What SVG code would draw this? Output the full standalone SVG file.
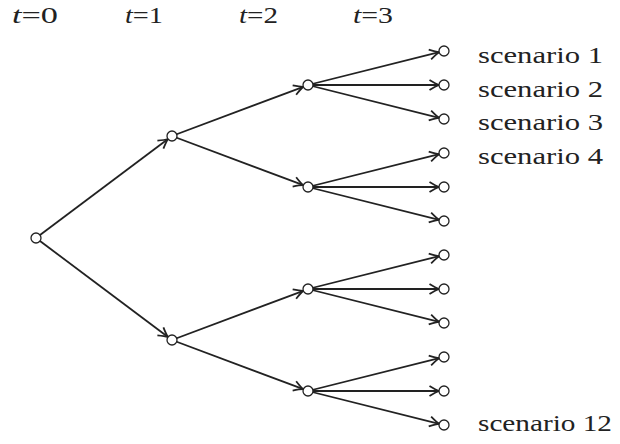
<svg xmlns="http://www.w3.org/2000/svg" width="620" height="444" viewBox="0 0 620 444">
<style>
.n{fill:#fff;stroke:#222;stroke-width:1.3}
.e{stroke:#222;stroke-width:1.8;fill:none;marker-end:url(#ah)}
.lbl{font-family:'Liberation Serif','DejaVu Serif',serif;font-size:24px;fill:#222}
.it{font-style:italic}
</style>
<defs>
<marker id="ah" markerUnits="userSpaceOnUse" viewBox="-11 -6 12 12" markerWidth="12" markerHeight="12" refX="0" refY="0" orient="auto">
<path d="M-9.5,-5 Q-3,-1 0,0 Q-3,1 -9.5,5" fill="none" stroke="#222" stroke-width="1.8"/>
</marker>
</defs>
<rect width="620" height="444" fill="#fff"/>
<g id="connectors">
<line class="e" x1="36" y1="238" x2="168" y2="139"/>
<line class="e" x1="36" y1="238" x2="168" y2="337"/>
<line class="e" x1="172" y1="136" x2="303.3" y2="86.8"/>
<line class="e" x1="172" y1="136" x2="303.3" y2="185.2"/>
<line class="e" x1="172" y1="340" x2="303.3" y2="290.8"/>
<line class="e" x1="172" y1="340" x2="303.3" y2="389.2"/>
<line class="e" x1="308" y1="85" x2="439.15" y2="52.21"/>
<line class="e" x1="308" y1="85" x2="439" y2="85"/>
<line class="e" x1="308" y1="85" x2="439.15" y2="117.79"/>
<line class="e" x1="308" y1="187" x2="439.15" y2="154.21"/>
<line class="e" x1="308" y1="187" x2="439" y2="187"/>
<line class="e" x1="308" y1="187" x2="439.15" y2="219.79"/>
<line class="e" x1="308" y1="289" x2="439.15" y2="256.21"/>
<line class="e" x1="308" y1="289" x2="439" y2="289"/>
<line class="e" x1="308" y1="289" x2="439.15" y2="321.79"/>
<line class="e" x1="308" y1="391" x2="439.15" y2="358.21"/>
<line class="e" x1="308" y1="391" x2="439" y2="391"/>
<line class="e" x1="308" y1="391" x2="439.15" y2="423.79"/>
</g>
<g id="root"><circle class="n" cx="36" cy="238" r="5"/></g>
<g id="t1a"><circle class="n" cx="172" cy="136" r="5"/></g>
<g id="t1b"><circle class="n" cx="172" cy="340" r="5"/></g>
<g id="t2a"><circle class="n" cx="308" cy="85" r="5"/></g>
<g id="t2b"><circle class="n" cx="308" cy="187" r="5"/></g>
<g id="t2c"><circle class="n" cx="308" cy="289" r="5"/></g>
<g id="t2d"><circle class="n" cx="308" cy="391" r="5"/></g>
<g id="leaf1"><circle class="n" cx="444" cy="51" r="5"/><text class="lbl" x="478" y="63" textLength="125" lengthAdjust="spacingAndGlyphs">scenario 1</text></g>
<g id="leaf2"><circle class="n" cx="444" cy="85" r="5"/><text class="lbl" x="478" y="97" textLength="125" lengthAdjust="spacingAndGlyphs">scenario 2</text></g>
<g id="leaf3"><circle class="n" cx="444" cy="119" r="5"/><text class="lbl" x="478" y="130" textLength="125" lengthAdjust="spacingAndGlyphs">scenario 3</text></g>
<g id="leaf4"><circle class="n" cx="444" cy="153" r="5"/><text class="lbl" x="478" y="164" textLength="125" lengthAdjust="spacingAndGlyphs">scenario 4</text></g>
<g id="leaf5"><circle class="n" cx="444" cy="187" r="5"/></g>
<g id="leaf6"><circle class="n" cx="444" cy="221" r="5"/></g>
<g id="leaf7"><circle class="n" cx="444" cy="255" r="5"/></g>
<g id="leaf8"><circle class="n" cx="444" cy="289" r="5"/></g>
<g id="leaf9"><circle class="n" cx="444" cy="323" r="5"/></g>
<g id="leaf10"><circle class="n" cx="444" cy="357" r="5"/></g>
<g id="leaf11"><circle class="n" cx="444" cy="391" r="5"/></g>
<g id="leaf12"><circle class="n" cx="444" cy="425" r="5"/><text class="lbl" x="478" y="431" textLength="134" lengthAdjust="spacingAndGlyphs">scenario 12</text></g>
<g id="time-labels">
<text class="lbl" x="12" y="23" textLength="46" lengthAdjust="spacingAndGlyphs"><tspan class="it">t</tspan>=0</text>
<text class="lbl" x="125" y="23" textLength="38" lengthAdjust="spacingAndGlyphs"><tspan class="it">t</tspan>=1</text>
<text class="lbl" x="239" y="23" textLength="39" lengthAdjust="spacingAndGlyphs"><tspan class="it">t</tspan>=2</text>
<text class="lbl" x="353" y="23" textLength="40" lengthAdjust="spacingAndGlyphs"><tspan class="it">t</tspan>=3</text>
</g>
</svg>
